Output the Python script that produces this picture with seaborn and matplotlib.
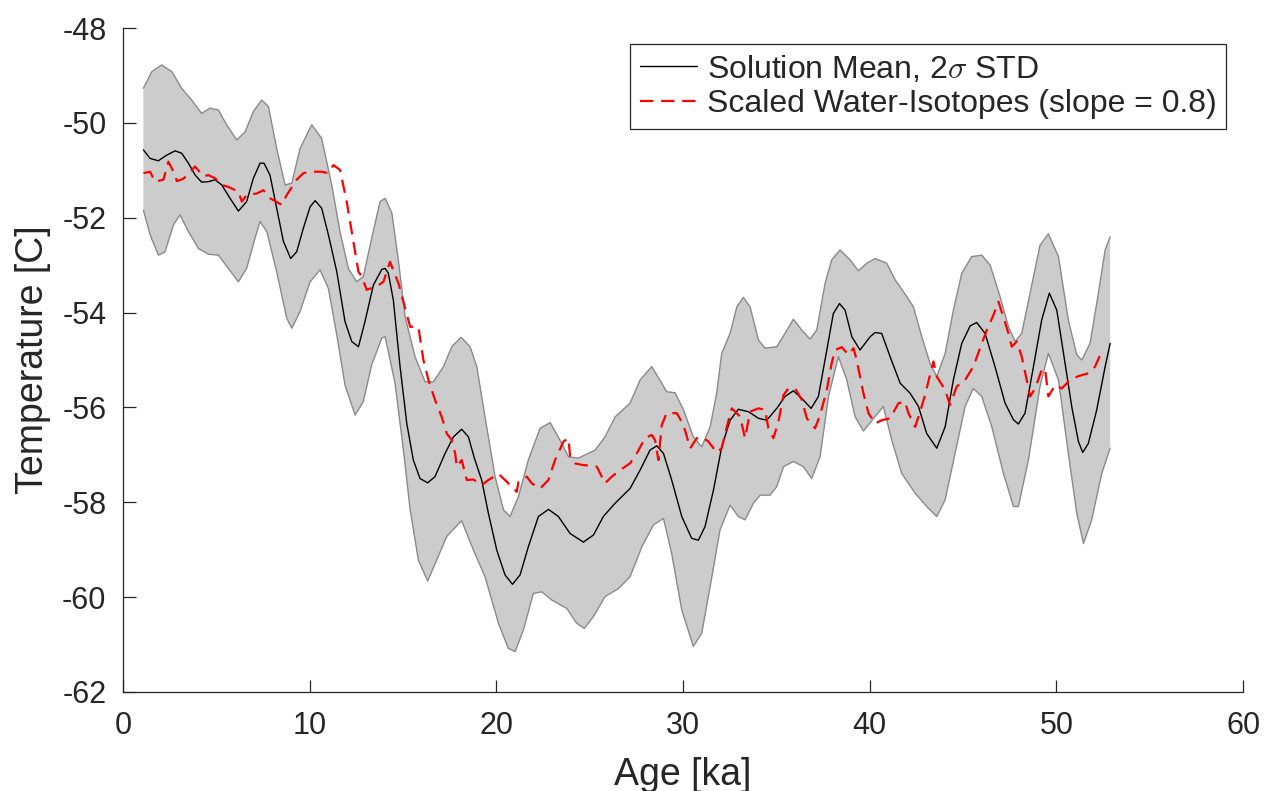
import numpy as np
import pandas as pd
import matplotlib
matplotlib.use("Agg")
import matplotlib.pyplot as plt
import seaborn as sns

# ---------------- data ----------------
mean_age = [1.09, 1.45, 1.89, 2.34, 2.79, 3.14, 3.50, 3.86, 4.21, 4.57, 4.93, 5.29, 5.73, 6.18,
            6.62, 6.98, 7.34, 7.55, 7.87, 8.23, 8.59, 8.98, 9.30, 9.66, 10.02, 10.29, 10.64,
            11.0, 11.45, 11.89, 12.25, 12.61, 12.96, 13.41, 13.86, 14.04, 14.21, 14.48, 14.84,
            15.20, 15.55, 15.91, 16.32, 16.71, 17.25, 17.70, 18.14, 18.50, 18.82, 19.21, 19.57,
            20.02, 20.46, 20.86, 21.27, 21.71, 22.25, 22.79, 23.32, 23.95, 24.66, 25.20, 25.73,
            26.36, 27.16, 27.70, 28.23, 28.59, 28.95, 29.39, 29.93, 30.46, 30.82, 31.18, 31.63,
            32.07, 32.52, 32.96, 33.50, 34.04, 34.48, 35.02, 35.46, 35.91, 36.36, 36.86, 37.25,
            37.70, 38.05, 38.38, 38.68, 39.04, 39.48, 40.02, 40.29, 40.64, 41.09, 41.63, 42.16,
            42.61, 43.05, 43.59, 44.04, 44.48, 44.93, 45.38, 45.73, 46.18, 46.71, 47.25, 47.70,
            47.96, 48.32, 48.77, 49.21, 49.62, 50.02, 50.38, 50.82, 51.18, 51.41, 51.71, 52.16,
            52.61, 52.88]
mean_temp = [-50.57, -50.75, -50.80, -50.68, -50.59, -50.64, -50.85, -51.10, -51.25, -51.24,
             -51.20, -51.31, -51.59, -51.86, -51.66, -51.17, -50.85, -50.85, -51.10, -51.80,
             -52.50, -52.86, -52.72, -52.22, -51.77, -51.64, -51.80, -52.36, -53.14, -54.19,
             -54.61, -54.72, -54.19, -53.42, -53.09, -53.07, -53.17, -53.74, -55.14, -56.34,
             -57.11, -57.50, -57.59, -57.46, -56.97, -56.62, -56.46, -56.62, -57.07, -57.53,
             -58.23, -59.01, -59.53, -59.73, -59.53, -58.94, -58.30, -58.15, -58.30, -58.66,
             -58.84, -58.69, -58.30, -58.02, -57.71, -57.32, -56.90, -56.81, -56.97, -57.53,
             -58.30, -58.76, -58.80, -58.51, -57.74, -56.83, -56.27, -56.04, -56.09, -56.23,
             -56.27, -56.02, -55.77, -55.65, -55.81, -56.02, -55.77, -54.79, -54.02, -53.81,
             -53.95, -54.51, -54.79, -54.51, -54.42, -54.44, -54.93, -55.49, -55.70, -55.98,
             -56.55, -56.86, -56.41, -55.42, -54.65, -54.28, -54.21, -54.44, -55.14, -55.91,
             -56.26, -56.35, -56.12, -55.14, -54.16, -53.59, -53.95, -54.86, -55.98, -56.72,
             -56.95, -56.76, -56.05, -55.14, -54.65]

upper_age = [1.09, 1.54, 2.07, 2.61, 3.14, 3.68, 4.21, 4.66, 5.11, 5.55, 6.09, 6.54, 6.98, 7.43,
             7.79, 8.23, 8.68, 9.04, 9.48, 10.11, 10.64, 11.18, 11.62, 12.07, 12.52, 12.87,
             13.32, 13.77, 14.04, 14.4, 14.75, 15.11, 15.64, 16.18, 16.63, 17.16, 17.61, 18.11,
             18.59, 18.95, 19.39, 19.93, 20.38, 20.73, 21.18, 21.71, 22.34, 22.88, 23.41, 23.86,
             24.39, 25.29, 25.82, 26.36, 27.16, 27.70, 28.32, 28.86, 29.12, 29.57, 30.02, 30.55,
             31.0, 31.45, 31.80, 32.07, 32.52, 32.88, 33.23, 33.59, 34.04, 34.39, 35.02, 35.46,
             35.91, 36.36, 36.80, 37.16, 37.61, 37.96, 38.41, 38.95, 39.39, 39.84, 40.29, 40.91,
             41.36, 41.98, 42.34, 42.79, 43.23, 43.59, 44.04, 44.48, 44.93, 45.46, 46.0, 46.45,
             46.98, 47.43, 47.79, 48.14, 48.59, 49.12, 49.57, 50.11, 50.64, 51.09, 51.36, 51.80,
             52.25, 52.61, 52.88]
upper_temp = [-49.27, -48.92, -48.78, -48.92, -49.27, -49.52, -49.80, -49.69, -49.73, -50.04,
              -50.36, -50.19, -49.76, -49.52, -49.66, -50.54, -51.31, -51.27, -50.54, -50.04,
              -50.33, -51.31, -52.29, -53.07, -53.35, -53.24, -52.43, -51.66, -51.59, -51.9,
              -52.9, -54.09, -54.93, -55.46, -55.46, -55.14, -54.72, -54.52, -54.72, -55.14,
              -56.20, -57.46, -58.16, -58.30, -57.88, -57.11, -56.44, -56.32, -56.69, -57.04,
              -57.07, -56.90, -56.62, -56.20, -55.91, -55.42, -55.14, -55.49, -55.67, -55.69,
              -56.05, -56.62, -56.83, -56.41, -55.70, -54.86, -54.44, -53.88, -53.68, -53.88,
              -54.58, -54.75, -54.72, -54.44, -54.14, -54.37, -54.56, -54.37, -53.38, -52.89,
              -52.68, -52.89, -53.12, -52.96, -52.86, -52.96, -53.31, -53.66, -53.88, -54.51,
              -55.07, -55.35, -54.86, -53.95, -53.17, -52.82, -52.79, -53.0, -53.66, -54.30,
              -54.61, -54.44, -53.59, -52.58, -52.34, -52.82, -54.16, -54.89, -55.0, -54.65,
              -53.59, -52.68, -52.40]

lower_age = [1.09, 1.45, 1.89, 2.25, 2.70, 3.05, 3.50, 4.04, 4.57, 5.11, 5.64, 6.18, 6.62, 7.07,
             7.34, 7.70, 8.23, 8.77, 9.04, 9.48, 10.02, 10.55, 11.0, 11.45, 11.89, 12.43, 12.87,
             13.32, 13.86, 14.04, 14.57, 15.02, 15.38, 15.82, 16.32, 16.80, 17.34, 18.14, 18.77,
             19.39, 20.11, 20.64, 21.0, 21.45, 21.98, 22.43, 22.96, 23.77, 24.30, 24.71, 25.20,
             25.82, 26.54, 27.16, 27.79, 28.41, 28.95, 29.39, 29.93, 30.55, 31.0, 31.45, 31.98,
             32.52, 32.96, 33.32, 33.77, 34.13, 34.66, 35.02, 35.38, 35.91, 36.45, 36.89, 37.34,
             37.79, 38.32, 38.77, 39.21, 39.66, 40.29, 40.73, 41.18, 41.71, 42.43, 43.05, 43.59,
             44.04, 44.57, 45.11, 45.55, 46.0, 46.54, 47.16, 47.70, 47.96, 48.50, 49.12, 49.57,
             50.11, 50.64, 51.09, 51.45, 51.89, 52.43, 52.88]
lower_temp = [-51.84, -52.36, -52.79, -52.72, -52.15, -51.94, -52.29, -52.65, -52.77, -52.79,
              -53.07, -53.35, -53.07, -52.43, -52.08, -52.29, -53.14, -54.12, -54.33, -53.98,
              -53.35, -53.10, -53.49, -54.47, -55.53, -56.16, -55.88, -55.10, -54.54, -54.51,
              -55.49, -56.90, -58.16, -59.22, -59.66, -59.22, -58.72, -58.39, -59.01, -59.57,
              -60.55, -61.08, -61.15, -60.69, -59.92, -59.89, -60.06, -60.24, -60.55, -60.66,
              -60.41, -59.99, -59.82, -59.57, -58.94, -58.48, -58.34, -59.08, -60.27, -61.04,
              -60.76, -59.78, -58.58, -58.06, -58.30, -58.37, -58.02, -57.85, -57.85, -57.67,
              -57.25, -57.14, -57.25, -57.50, -57.04, -55.77, -54.93, -55.42, -56.19, -56.50,
              -56.19, -55.98, -56.69, -57.39, -57.81, -58.09, -58.30, -57.95, -56.97, -55.98,
              -55.60, -55.77, -56.41, -57.39, -58.09, -58.09, -57.11, -55.56, -54.86, -55.42,
              -56.97, -58.23, -58.87, -58.37, -57.39, -56.86]

iso_age = [1.09, 1.45, 1.71, 2.16, 2.43, 2.79, 2.88, 3.23, 3.86, 4.30, 4.57, 4.93, 5.29, 5.64,
           6.18, 6.36, 6.62, 7.16, 7.52, 7.88, 8.5, 8.77, 9.30, 9.66, 10.11, 10.64, 11.0, 11.27,
           11.62, 11.98, 12.34, 12.61, 12.79, 13.05, 13.59, 13.95, 14.30, 14.75, 15.11, 15.38,
           15.82, 15.91, 16.09, 16.36, 16.71, 17.07, 17.34, 17.61, 17.79, 17.88, 18.14, 18.41,
           18.77, 19.21, 19.57, 20.11, 20.46, 20.82, 21.09, 21.18, 21.63, 21.89, 22.34, 22.79,
           23.14, 23.59, 23.86, 23.95, 24.21, 24.57, 25.38, 25.82, 26.18, 26.63, 27.16, 27.52,
           27.96, 28.32, 28.50, 28.68, 28.86, 29.12, 29.66, 30.02, 30.38, 30.73, 31.0, 31.36,
           31.80, 32.07, 32.34, 32.61, 33.05, 33.32, 33.59, 34.04, 34.39, 34.57, 34.84, 35.11,
           35.38, 35.64, 36.0, 36.36, 36.63, 37.07, 37.34, 37.70, 37.96, 38.14, 38.50, 38.86,
           39.13, 39.30, 39.66, 39.93, 40.29, 40.64, 41.09, 41.54, 41.89, 42.07, 42.43, 42.70,
           42.96, 43.41, 43.59, 44.04, 44.30, 44.66, 45.11, 45.55, 45.91, 46.27, 46.63, 46.89,
           47.16, 47.43, 47.61, 47.88, 48.14, 48.41, 48.59, 48.86, 49.21, 49.39, 49.57, 49.93,
           50.29, 50.73, 51.18, 51.71, 52.07, 52.43]
iso_temp = [-51.06, -51.03, -51.24, -51.20, -50.82, -51.10, -51.23, -51.18, -50.92, -51.13,
            -51.10, -51.17, -51.31, -51.35, -51.45, -51.66, -51.52, -51.49, -51.42, -51.59,
            -51.73, -51.52, -51.20, -51.06, -51.03, -51.03, -51.06, -50.89, -50.99, -51.66,
            -52.50, -53.14, -53.24, -53.52, -53.45, -53.35, -52.93, -53.38, -53.91, -54.30,
            -54.30, -54.54, -55.00, -55.42, -55.84, -56.20, -56.55, -56.69, -56.97, -57.25,
            -57.11, -57.53, -57.52, -57.64, -57.53, -57.40, -57.53, -57.67, -57.78, -57.57,
            -57.46, -57.60, -57.71, -57.53, -57.11, -56.72, -56.65, -57.04, -57.18, -57.21,
            -57.25, -57.60, -57.46, -57.32, -57.18, -56.97, -56.65, -56.58, -56.69, -57.11,
            -56.37, -56.12, -56.12, -56.37, -56.86, -56.65, -56.62, -56.72, -56.95, -56.86,
            -56.41, -56.02, -56.19, -56.65, -56.09, -56.02, -56.05, -56.44, -56.65, -56.30,
            -55.74, -55.60, -55.60, -55.84, -56.23, -56.44, -56.16, -55.63, -55.07, -54.79,
            -54.73, -54.89, -54.75, -55.00, -55.70, -56.12, -56.34, -56.27, -56.23, -55.91,
            -55.88, -56.12, -56.41, -56.09, -55.74, -55.03, -55.35, -55.63, -55.95, -55.56,
            -55.42, -55.14, -54.75, -54.37, -54.05, -53.77, -54.09, -54.44, -54.72, -54.61,
            -54.93, -55.42, -55.77, -55.60, -55.21, -55.18, -55.77, -55.53, -55.60, -55.42,
            -55.34, -55.28, -55.14, -54.82]

x_ticks = [0, 10, 20, 30, 40, 50, 60]
y_ticks = [-62, -60, -58, -56, -54, -52, -50, -48]

mean_label = "Solution Mean, 2$\\sigma$ STD"
iso_label = "Scaled Water-Isotopes (slope = 0.8)"

# ---------------- style ----------------
sns.set_style("ticks")
plt.rcParams["font.family"] = ["Liberation Sans", "DejaVu Sans"]
plt.rcParams["mathtext.fontset"] = "cm"
plt.rcParams["axes.unicode_minus"] = False

AX_COL = "#262626"
DASH = (6, 3.5)

fig = plt.figure(figsize=(12.66, 7.91), dpi=100)
ax = fig.add_axes([0.0972, 0.1252, 0.8847, 0.8394])

# shaded 2-sigma band
band_x = upper_age + lower_age[::-1]
band_y = upper_temp + lower_temp[::-1]
ax.fill(band_x, band_y, facecolor="#cccccc", edgecolor="none", zorder=1)
sns.lineplot(x=upper_age, y=upper_temp, ax=ax, color="#8a8a8a", lw=1.0,
             estimator=None, sort=False, zorder=2)
sns.lineplot(x=lower_age, y=lower_temp, ax=ax, color="#8a8a8a", lw=1.0,
             estimator=None, sort=False, zorder=2)

# mean
sns.lineplot(x=mean_age, y=mean_temp, ax=ax, color="black", lw=1.0,
             estimator=None, sort=False, label=mean_label, zorder=3)
# isotope curve
sns.lineplot(x=iso_age, y=iso_temp, ax=ax, color="red", lw=1.6,
             estimator=None, sort=False, label=iso_label, zorder=4)
ax.lines[-1].set_dashes(DASH)

ax.set_xlim(0, 60)
ax.set_ylim(-62, -48)
ax.set_xticks(x_ticks)
ax.set_yticks(y_ticks)
ax.set_xticklabels([str(v) for v in x_ticks])
ax.set_yticklabels([str(v) for v in y_ticks])

for s in ["top", "right"]:
    ax.spines[s].set_visible(False)
for s in ["left", "bottom"]:
    ax.spines[s].set_color(AX_COL)
    ax.spines[s].set_linewidth(0.9)

ax.tick_params(axis="both", which="major", direction="in", length=9, width=0.9,
               color=AX_COL, labelcolor=AX_COL, labelsize=22,
               bottom=True, left=True, top=False, right=False)
ax.tick_params(axis="x", pad=14)
ax.tick_params(axis="y", pad=12)

ax.set_xlabel("Age [ka]", fontsize=27, color=AX_COL, labelpad=11)
ax.set_ylabel("Temperature [C]", fontsize=27, color=AX_COL, labelpad=8)

leg = ax.legend(loc="upper right", bbox_to_anchor=(0.985, 0.976), borderaxespad=0,
                fontsize=23, frameon=True, fancybox=False, framealpha=1,
                edgecolor=AX_COL, handlelength=1.8, handletextpad=0.3,
                labelspacing=0.15, borderpad=0.3)
leg.get_frame().set_linewidth(0.9)
leg.get_lines()[1].set_dashes(DASH)

fig.savefig("out.png", dpi=100)
